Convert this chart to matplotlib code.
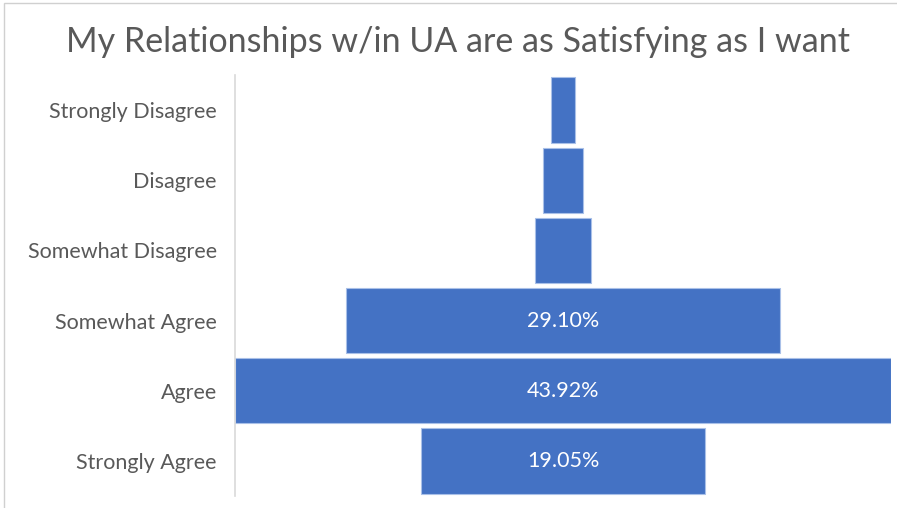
import matplotlib.pyplot as plt
from matplotlib.patches import Rectangle

categories = ["Strongly Disagree", "Disagree", "Somewhat Disagree",
              "Somewhat Agree", "Agree", "Strongly Agree"]
percent = [1.60, 2.63, 3.70, 29.10, 43.92, 19.05]
show_label = [False, False, False, True, True, True]

bar_color = "#4472C4"
text_color = "#595959"

plt.rcParams['font.family'] = ['Lato', 'DejaVu Sans']

fig = plt.figure(figsize=(8.97, 5.08), dpi=100)
ax = fig.add_axes([235 / 897, 1 - 496 / 508, 656 / 897, 421 / 508])

widest = max(percent)
ypos = list(range(len(categories)))
# funnel: each bar centred on zero
lefts = [-p / 2 for p in percent]
ax.barh(ypos, percent, left=lefts, height=0.93, color=bar_color,
        edgecolor="#a9c0e8", linewidth=0.8)

for y, p, show in zip(ypos, percent, show_label):
    if show:
        ax.text(0, y, f"{p:.2f}%", ha="center", va="center",
                color="white", fontsize=15.5)

ax.set_xlim(-widest / 2, widest / 2)
ax.set_ylim(len(categories) - 0.5, -0.5)
ax.set_yticks(ypos)
ax.set_yticklabels(categories, fontsize=15.5, color=text_color)
ax.tick_params(axis="y", length=0, pad=13)
ax.set_xticks([])
for side in ["top", "right", "bottom"]:
    ax.spines[side].set_visible(False)
ax.spines["left"].set_color("#d9d9d9")
ax.spines["left"].set_linewidth(1.2)

fig.text(458 / 897, 1 - 42 / 508, "My Relationships w/in UA are as Satisfying as I want",
         ha="center", va="center", fontsize=24.5, color=text_color)

# chart frame edge
fig.add_artist(Rectangle((4 / 897, -0.01), 1.0, 1 - 3 / 508 + 0.01,
                         transform=fig.transFigure, fill=False,
                         edgecolor="#d0d0d0", linewidth=1.0))

fig.savefig("out.png", dpi=100)
